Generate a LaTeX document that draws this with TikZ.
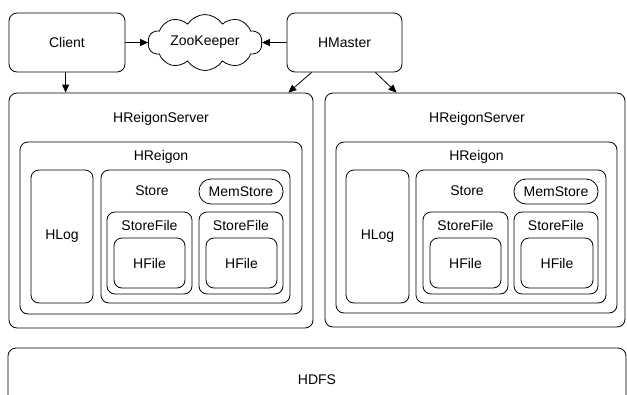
\documentclass[tikz,border=0pt]{standalone}
\usepackage{fontspec}
\setmainfont{Liberation Sans}
\usetikzlibrary{shapes.symbols,fit,arrows.meta,calc}
\newcommand\mybox[7][]{\node[bx,#1,fit={(#3,#4) (#5,#6)}] (#2) {};
  \node[lbl] (#2-t) at (#2.center) {#7};}
\begin{document}
\begin{tikzpicture}[x=1pt,y=-1pt, font=\fontsize{14}{16}\selectfont,
  bx/.style={draw, line width=0.8pt, rounded corners=8pt, inner sep=0pt},
  pill/.style={rounded corners=12pt},
  arr/.style={-{Triangle[length=8pt,width=7pt]}, line width=0.8pt},
  lbl/.style={inner sep=0pt}]
\useasboundingbox (0,0) rectangle (627,394);
\clip (0,0) rectangle (627,394);

% top row
\mybox{client}{9}{13}{125}{72}{Client}
\mybox{hmaster}{287}{13}{402}{72}{HMaster}
\node[cloud, draw, cloud puffs=10, cloud puff arc=115, cloud ignores aspect,
      minimum width=114pt, minimum height=56pt, inner sep=0pt, line width=0.8pt]
      (zk) at (205,42.5) {ZooKeeper};

% left region server
\mybox{lserver}{9}{93}{313}{328}{}
\node[lbl] (lserverlbl) at (161,119) {HReigonServer};
\mybox{lregion}{20}{142}{302}{314}{}
\node[lbl] (lregionlbl) at (161,157) {HReigon};
\mybox{lhlog}{31}{170}{93}{303}{HLog}
\mybox{lstore}{101}{170}{290}{303}{}
\node[lbl] (lstorelbl) at (152,191) {Store};
\mybox[pill]{lmem}{199}{179}{283}{204}{MemStore}
\mybox{lsfa}{107}{212}{192}{294}{}
\node[lbl] (lsfalbl) at (149.5,225) {StoreFile};
\mybox{lhfa}{114}{238}{185}{288}{HFile}
\mybox{lsfb}{199}{212}{283}{294}{}
\node[lbl] (lsfblbl) at (241,225) {StoreFile};
\mybox{lhfb}{206}{238}{277}{288}{HFile}

% right region server
\mybox{rserver}{325}{93}{625}{327}{}
\node[lbl] (rserverlbl) at (477,119) {HReigonServer};
\mybox{rregion}{336}{142}{617}{313}{}
\node[lbl] (rregionlbl) at (476.5,157) {HReigon};
\mybox{rhlog}{346}{170}{409}{303}{HLog}
\mybox{rstore}{416}{170}{606}{303}{}
\node[lbl] (rstorelbl) at (467,191) {Store};
\mybox[pill]{rmem}{514}{179}{598}{204}{MemStore}
\mybox{rsfa}{423}{212}{508}{294}{}
\node[lbl] (rsfalbl) at (465.5,225) {StoreFile};
\mybox{rhfa}{430}{238}{501}{288}{HFile}
\mybox{rsfb}{514}{212}{598}{294}{}
\node[lbl] (rsfblbl) at (556,225) {StoreFile};
\mybox{rhfb}{521}{238}{593}{288}{HFile}

% HDFS
\mybox{hdfs}{8}{348}{626}{412}{}
\node[lbl] (hdfslbl) at (317,380) {HDFS};

% connectors
\draw[arr] (client.east) -- (zk.west);
\draw[arr] (hmaster.west) -- (zk.east);
\draw[arr] ($(client.south west)+(57,0)$) -- ($(client.south west |- lserver.north)+(57,0)$);
\draw[arr] ($(hmaster.south west)+(25,0)$) -- ($(lserver.north east)+(-25,0)$);
\draw[arr] ($(hmaster.south east)+(-27,0)$) -- ($(rserver.north west)+(72,0)$);
\end{tikzpicture}
\end{document}
